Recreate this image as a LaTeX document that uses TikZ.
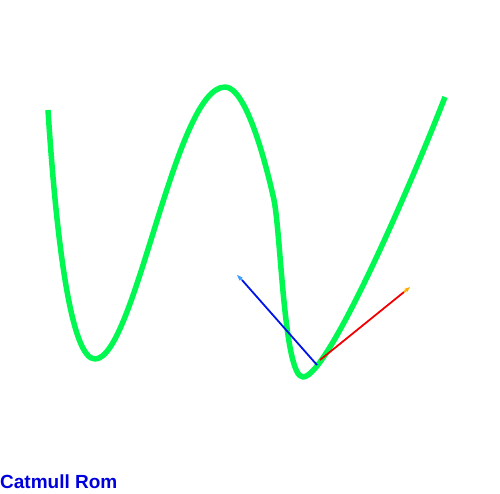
\documentclass[tikz,border=0pt]{standalone}
\usepackage{fontspec}
\setmainfont{Liberation Sans}
\usetikzlibrary{arrows.meta}
\definecolor{curvegreen}{RGB}{0,248,80}
\definecolor{tanblue}{RGB}{0,20,230}
\definecolor{tipblue}{RGB}{60,160,255}
\definecolor{tanred}{RGB}{240,0,0}
\definecolor{tipred}{RGB}{255,170,0}
\definecolor{labelblue}{RGB}{0,0,220}
\tikzset{
  curve/.style={curvegreen, line width=5.5pt, line cap=butt, line join=round},
  vec/.style={line width=1.8pt},
}
\begin{document}
\begin{tikzpicture}[x=1pt,y=-1pt]
\useasboundingbox (0,0) rectangle (500,494);
\coordinate (p0) at (48,110);
\coordinate (p1) at (95,359);
\coordinate (p2) at (225,87);
\coordinate (p3) at (274,200);
\coordinate (p4) at (303,377);
\coordinate (p5) at (445,97);
\draw[curve] (p0) .. controls (57,250) and (72,359) .. (p1)
  .. controls (135,359) and (175,87) .. (p2)
  .. controls (245,87) and (264,155) .. (p3)
  .. controls (281,235) and (284,377) .. (p4)
  .. controls (328,377) and (412,182) .. (p5);
\coordinate (o1) at (317,365);
\coordinate (b) at (242,280);
\coordinate (bt) at (237,275);
\coordinate (o2) at (320,360);
\coordinate (r) at (404,292);
\coordinate (rt) at (410,287);
\draw[vec, tanblue] (o1) -- (b);
\draw[vec, tipblue, -{Stealth[length=6pt,width=4.5pt]}] (b) -- (bt);
\draw[vec, tanred] (o2) -- (r);
\draw[vec, tipred, -{Stealth[length=6pt,width=4.5pt]}] (r) -- (rt);
\node[anchor=base west, inner sep=0pt, text=labelblue, font=\bfseries\fontsize{19}{22}\selectfont] (lab) at (0,488) {Catmull Rom};
\end{tikzpicture}
\end{document}
